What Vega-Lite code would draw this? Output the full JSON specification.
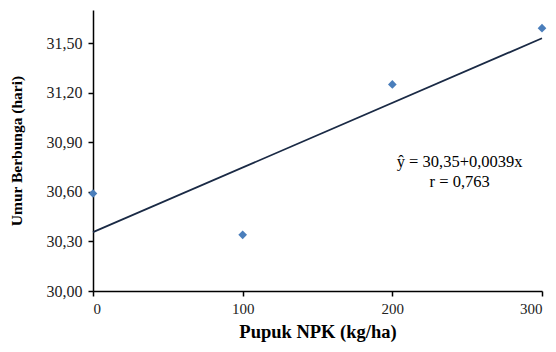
{
  "$schema": "https://vega.github.io/schema/vega-lite/v6.json",
  "width": 449,
  "height": 281,
  "autosize": {"type": "none"},
  "padding": {"left": 93, "top": 10, "right": 14, "bottom": 61},
  "background": "white",
  "config": {
    "view": {"stroke": null},
    "font": "Liberation Serif",
    "axis": {
      "grid": false,
      "domainColor": "black",
      "domainWidth": 1.5,
      "tickColor": "black",
      "tickWidth": 1.5,
      "tickSize": 5,
      "labelFont": "Liberation Serif",
      "labelColor": "#222",
      "titleFont": "Liberation Serif",
      "titleFontWeight": "bold",
      "titleColor": "black"
    }
  },
  "data": {
    "values": [
      {"npk": 0, "umur": 30.59},
      {"npk": 100, "umur": 30.34},
      {"npk": 200, "umur": 31.25},
      {"npk": 300, "umur": 31.59}
    ]
  },
  "layer": [
    {
      "transform": [{"regression": "umur", "on": "npk", "extent": [0, 300]}],
      "mark": {"type": "line", "color": "#1a2a45", "strokeWidth": 1.8},
      "encoding": {
        "x": {"field": "npk", "type": "quantitative"},
        "y": {"field": "umur", "type": "quantitative"}
      }
    },
    {
      "mark": {"type": "point", "shape": "diamond", "filled": true, "color": "#4a7ebb", "opacity": 1, "size": 75},
      "encoding": {
        "x": {
          "field": "npk", "type": "quantitative",
          "scale": {"domain": [0, 300], "nice": false, "zero": false},
          "axis": {"values": [0, 100, 200, 300], "title": "Pupuk NPK (kg/ha)", "labelFontSize": 15, "titleFontSize": 18.5, "labelPadding": 5, "titlePadding": 6}
        },
        "y": {
          "field": "umur", "type": "quantitative",
          "scale": {"domain": [30, 31.7], "nice": false, "zero": false},
          "axis": {
            "values": [30, 30.3, 30.6, 30.9, 31.2, 31.5],
            "labelExpr": "replace(format(datum.value, '.2f'), '.', ',')",
            "title": "Umur Berbunga (hari)",
            "labelFontSize": 16,
            "titleFontSize": 15.5,
            "labelPadding": 6,
            "titlePadding": 22
          }
        }
      }
    },
    {
      "data": {"values": [{"note": "ŷ = 30,35+0,0039x\nr = 0,763"}]},
      "mark": {"type": "text", "font": "Liberation Serif", "fontSize": 16.5, "fontWeight": "normal", "color": "black", "align": "center", "baseline": "middle", "lineBreak": "\n", "lineHeight": 20},
      "encoding": {
        "x": {"datum": 245},
        "y": {"datum": 30.78},
        "text": {"field": "note"}
      }
    }
  ]
}
